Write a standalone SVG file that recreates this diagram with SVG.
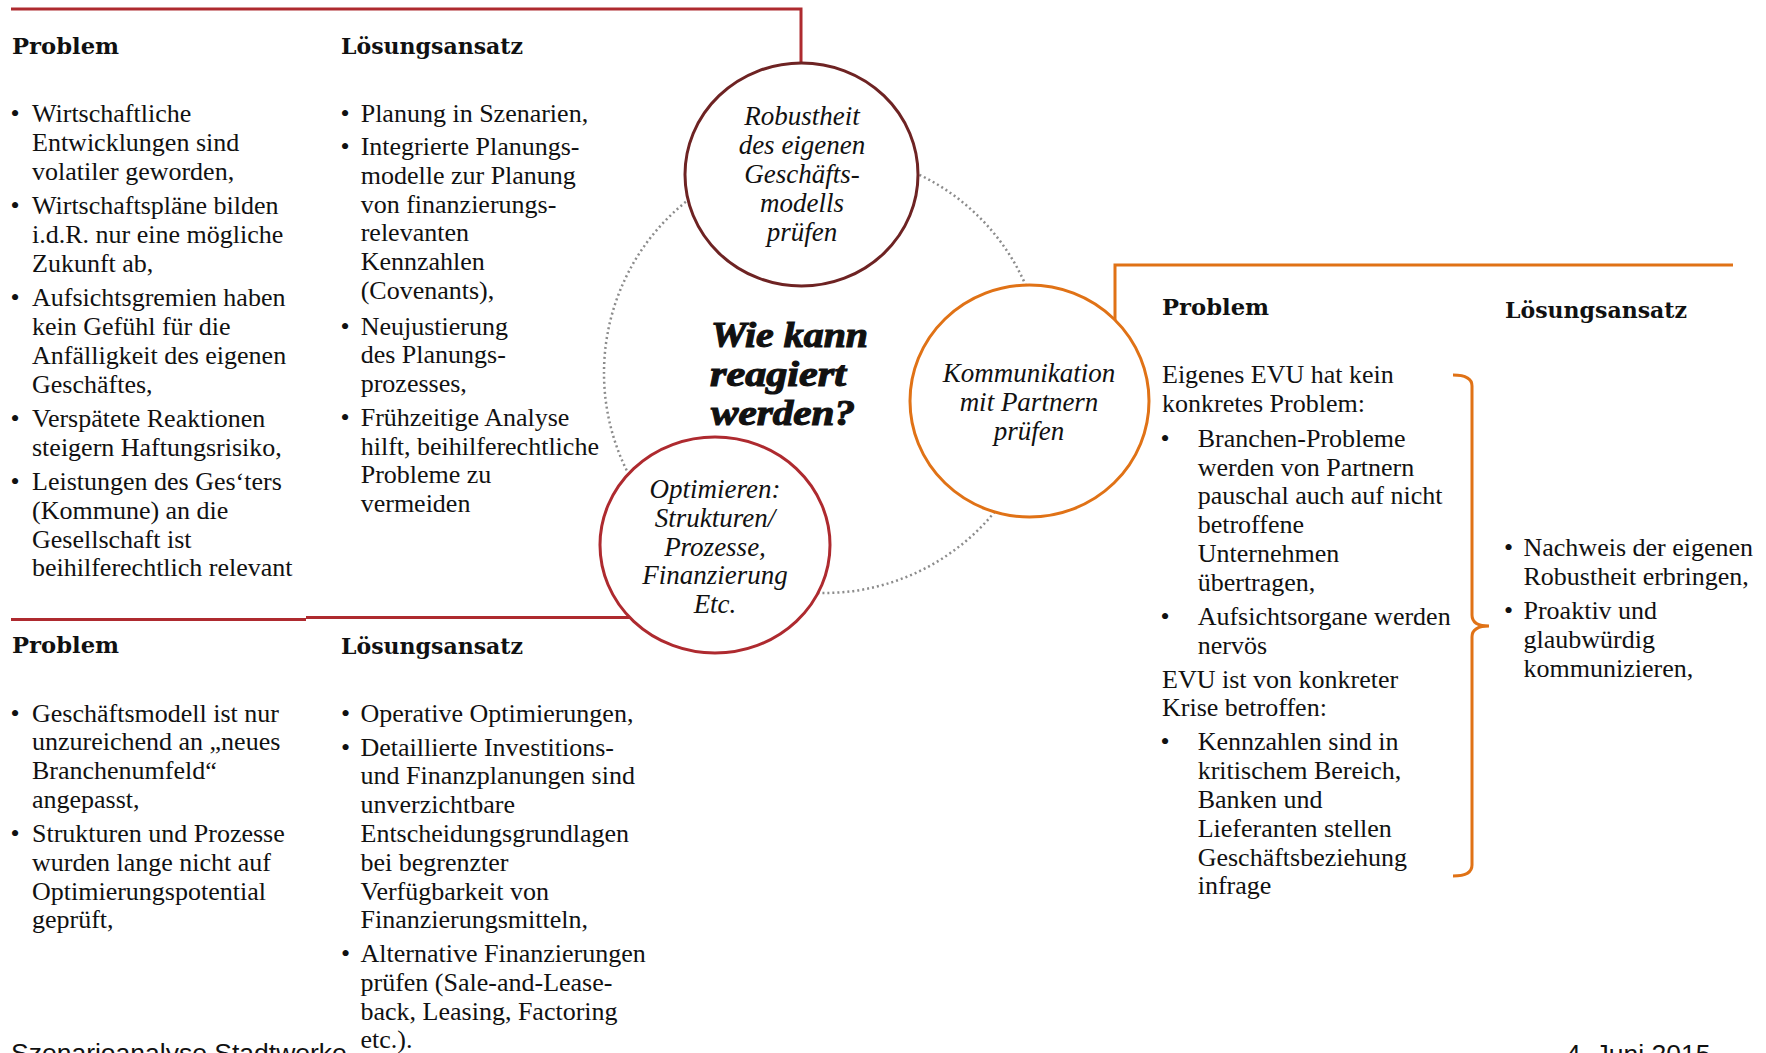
<svg xmlns="http://www.w3.org/2000/svg" width="1766" height="1053" viewBox="0 0 1766 1053">
<style>
.t{font-family:"Liberation Serif","Times New Roman",serif;font-size:26px;fill:#111}
.h{font-family:"DejaVu Serif","Liberation Serif",serif;font-weight:bold;font-size:22.7px;fill:#111}
.n{font-family:"Liberation Serif","Times New Roman",serif;font-style:italic;font-size:27px;fill:#111;text-anchor:middle}
.q{font-family:"Liberation Serif","Times New Roman",serif;font-style:italic;font-weight:bold;font-size:35px;fill:#111;stroke:#111;stroke-width:1.1}
.f{font-family:"Liberation Sans",Arial,sans-serif;font-size:26.5px;fill:#111}
.red{fill:none;stroke:#AE2A2F;stroke-width:3}
.org{fill:none;stroke:#E07216;stroke-width:3}
.dot{fill:none;stroke:#8C8C8C;stroke-width:2.5;stroke-dasharray:2 3}
</style>
<rect width="1766" height="1053" fill="#fff"/>

<g id="connectors">
  <circle class="dot" cx="824" cy="373" r="220"/>
  <path class="red" d="M11,9 H801 V66"/>
  <path class="red" d="M11,619.5 H306"/>
  <path class="red" d="M306,617.5 H640"/>
  <path class="org" d="M1115,330 V265 H1733"/>
  <path class="org" stroke-width="2.2" d="M1453,375 Q1472,375 1472,386 V615 Q1472,626 1489,626 Q1472,626 1472,637 V865 Q1472,876 1453,876"/>
</g>

<g id="node-robustheit">
  <ellipse cx="801.5" cy="174.5" rx="116.5" ry="111.5" fill="#fff" stroke="#6E2323" stroke-width="3"/>
  <text class="n" x="802" y="125">Robustheit</text>
  <text class="n" x="802" y="154">des eigenen</text>
  <text class="n" x="802" y="183">Geschäfts-</text>
  <text class="n" x="802" y="212">modells</text>
  <text class="n" x="802" y="241">prüfen</text>
</g>

<g id="node-kommunikation">
  <ellipse cx="1029.5" cy="401" rx="119.5" ry="116" fill="#fff" stroke="#E07216" stroke-width="3"/>
  <text class="n" x="1029" y="382">Kommunikation</text>
  <text class="n" x="1029" y="411">mit Partnern</text>
  <text class="n" x="1029" y="440">prüfen</text>
</g>

<g id="node-optimieren">
  <ellipse cx="715" cy="545" rx="115" ry="108" fill="#fff" stroke="#AE2A2F" stroke-width="3"/>
  <text class="n" x="715" y="497.5">Optimieren:</text>
  <text class="n" x="715" y="526.5">Strukturen/</text>
  <text class="n" x="715" y="555.5">Prozesse,</text>
  <text class="n" x="715" y="584">Finanzierung</text>
  <text class="n" x="715" y="613">Etc.</text>
</g>

<g id="center-question">
  <text class="q" x="711" y="347" textLength="157" lengthAdjust="spacingAndGlyphs">Wie kann</text>
  <text class="q" x="710" y="386" textLength="136" lengthAdjust="spacingAndGlyphs">reagiert</text>
  <text class="q" x="711" y="425" textLength="144" lengthAdjust="spacingAndGlyphs">werden?</text>
</g>

<g id="panel-top-left">
  <text class="h" x="12" y="54">Problem</text>
  <text class="h" x="341" y="54" textLength="182" lengthAdjust="spacingAndGlyphs">Lösungsansatz</text>
  <g class="t">
    <text x="10.5" y="122.3">•</text>
    <text x="32" y="122.3">Wirtschaftliche</text>
    <text x="32" y="151.1">Entwicklungen sind</text>
    <text x="32" y="179.9">volatiler geworden,</text>
    <text x="10.5" y="214.2">•</text>
    <text x="32" y="214.2">Wirtschaftspläne bilden</text>
    <text x="32" y="243">i.d.R. nur eine mögliche</text>
    <text x="32" y="271.8">Zukunft ab,</text>
    <text x="10.5" y="306.1">•</text>
    <text x="32" y="306.1">Aufsichtsgremien haben</text>
    <text x="32" y="334.9">kein Gefühl für die</text>
    <text x="32" y="363.7">Anfälligkeit des eigenen</text>
    <text x="32" y="392.5">Geschäftes,</text>
    <text x="10.5" y="426.8">•</text>
    <text x="32" y="426.8">Verspätete Reaktionen</text>
    <text x="32" y="455.6">steigern Haftungsrisiko,</text>
    <text x="10.5" y="489.9">•</text>
    <text x="32" y="489.9">Leistungen des Ges‘ters</text>
    <text x="32" y="518.7">(Kommune) an die</text>
    <text x="32" y="547.5">Gesellschaft ist</text>
    <text x="32" y="576.3">beihilferechtlich relevant</text>

    <text x="340.5" y="121.7">•</text>
    <text x="360.7" y="121.7">Planung in Szenarien,</text>
    <text x="340.5" y="155">•</text>
    <text x="360.7" y="155">Integrierte Planungs-</text>
    <text x="360.7" y="183.8">modelle zur Planung</text>
    <text x="360.7" y="212.6">von finanzierungs-</text>
    <text x="360.7" y="241.4">relevanten</text>
    <text x="360.7" y="270.2">Kennzahlen</text>
    <text x="360.7" y="299">(Covenants),</text>
    <text x="340.5" y="334.5">•</text>
    <text x="360.7" y="334.5">Neujustierung</text>
    <text x="360.7" y="363.3">des Planungs-</text>
    <text x="360.7" y="392.1">prozesses,</text>
    <text x="340.5" y="425.7">•</text>
    <text x="360.7" y="425.7">Frühzeitige Analyse</text>
    <text x="360.7" y="454.5">hilft, beihilferechtliche</text>
    <text x="360.7" y="483.3">Probleme zu</text>
    <text x="360.7" y="512.1">vermeiden</text>
  </g>
</g>

<g id="panel-bottom-left">
  <text class="h" x="12" y="653">Problem</text>
  <text class="h" x="341" y="654" textLength="182" lengthAdjust="spacingAndGlyphs">Lösungsansatz</text>
  <g class="t">
    <text x="10.5" y="721.5">•</text>
    <text x="32" y="721.5">Geschäftsmodell ist nur</text>
    <text x="32" y="750.3">unzureichend an „neues</text>
    <text x="32" y="779.1">Branchenumfeld“</text>
    <text x="32" y="807.9">angepasst,</text>
    <text x="10.5" y="841.9">•</text>
    <text x="32" y="841.9">Strukturen und Prozesse</text>
    <text x="32" y="870.7">wurden lange nicht auf</text>
    <text x="32" y="899.5">Optimierungspotential</text>
    <text x="32" y="928.3">geprüft,</text>

    <text x="341" y="721.5">•</text>
    <text x="360.5" y="721.5">Operative Optimierungen,</text>
    <text x="341" y="755.5">•</text>
    <text x="360.5" y="755.5">Detaillierte Investitions-</text>
    <text x="360.5" y="784.3">und Finanzplanungen sind</text>
    <text x="360.5" y="813.1">unverzichtbare</text>
    <text x="360.5" y="841.9">Entscheidungsgrundlagen</text>
    <text x="360.5" y="870.7">bei begrenzter</text>
    <text x="360.5" y="899.5">Verfügbarkeit von</text>
    <text x="360.5" y="928.3">Finanzierungsmitteln,</text>
    <text x="341" y="962">•</text>
    <text x="360.5" y="962">Alternative Finanzierungen</text>
    <text x="360.5" y="990.8">prüfen (Sale-and-Lease-</text>
    <text x="360.5" y="1019.6">back, Leasing, Factoring</text>
    <text x="360.5" y="1048.4">etc.).</text>
  </g>
</g>

<g id="panel-right">
  <text class="h" x="1162" y="315">Problem</text>
  <text class="h" x="1505" y="317.5" textLength="182" lengthAdjust="spacingAndGlyphs">Lösungsansatz</text>
  <g class="t">
    <text x="1162" y="383.3">Eigenes EVU hat kein</text>
    <text x="1162" y="412.1">konkretes Problem:</text>
    <text x="1160.5" y="446.7">•</text>
    <text x="1197.7" y="446.7">Branchen-Probleme</text>
    <text x="1197.7" y="475.5">werden von Partnern</text>
    <text x="1197.7" y="504.3">pauschal auch auf nicht</text>
    <text x="1197.7" y="533.1">betroffene</text>
    <text x="1197.7" y="561.9">Unternehmen</text>
    <text x="1197.7" y="590.7">übertragen,</text>
    <text x="1160.5" y="625">•</text>
    <text x="1197.7" y="625">Aufsichtsorgane werden</text>
    <text x="1197.7" y="653.8">nervös</text>
    <text x="1162" y="687.5">EVU ist von konkreter</text>
    <text x="1162" y="716.3">Krise betroffen:</text>
    <text x="1160.5" y="750.3">•</text>
    <text x="1197.7" y="750.3">Kennzahlen sind in</text>
    <text x="1197.7" y="779.1">kritischem Bereich,</text>
    <text x="1197.7" y="807.9">Banken und</text>
    <text x="1197.7" y="836.7">Lieferanten stellen</text>
    <text x="1197.7" y="865.5">Geschäftsbeziehung</text>
    <text x="1197.7" y="894.3">infrage</text>

    <text x="1504" y="556">•</text>
    <text x="1523.5" y="556">Nachweis der eigenen</text>
    <text x="1523.5" y="584.8">Robustheit erbringen,</text>
    <text x="1504" y="619">•</text>
    <text x="1523.5" y="619">Proaktiv und</text>
    <text x="1523.5" y="647.8">glaubwürdig</text>
    <text x="1523.5" y="676.6">kommunizieren,</text>
  </g>
</g>

<g id="footer">
  <text class="f" x="11" y="1062">Szenarioanalyse Stadtwerke</text>
  <text class="f" x="1566" y="1063">4. Juni 2015</text>
</g>
</svg>
